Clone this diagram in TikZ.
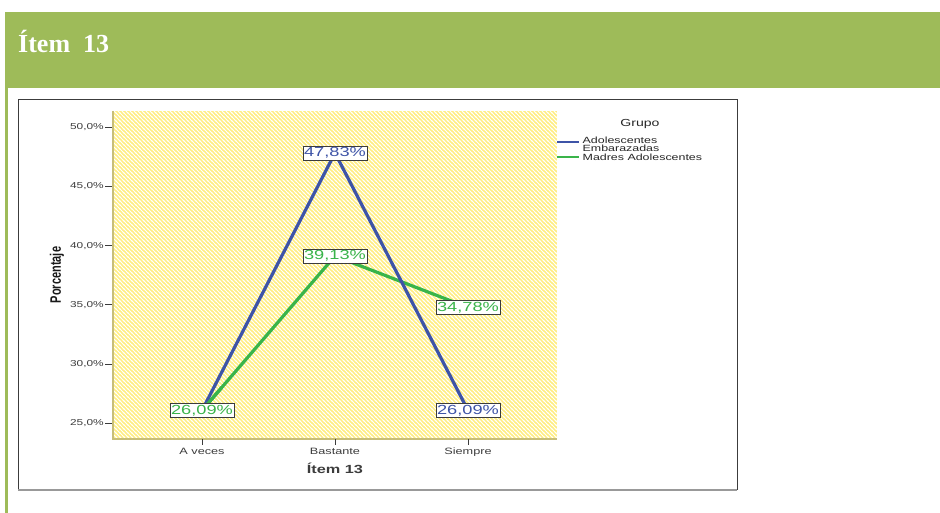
\documentclass[tikz,border=0pt]{standalone}
\usepackage{fontspec}
\setmainfont{Liberation Serif}
\newfontfamily\chartfont[FakeStretch=1.38]{Liberation Sans}
\newfontfamily\axisfont{Liberation Sans}
\usetikzlibrary{patterns.meta,calc}

\definecolor{banner}{RGB}{158,187,89}
\definecolor{serieA}{RGB}{62,84,167}
\definecolor{serieB}{RGB}{58,180,74}
\definecolor{plotyellow}{RGB}{255,238,128}
\definecolor{plotedge}{RGB}{200,190,120}
\definecolor{axisgray}{RGB}{60,60,60}

\tikzdeclarepattern{
  name=hatch,
  type=uncolored,
  bottom left={(-.1pt,-.1pt)},
  top right={(4.1pt,4.1pt)},
  tile size={(4pt,4pt)},
  code={
    \draw[line width=1pt] (-1pt,5pt) -- (5pt,-1pt);
    \draw[line width=1pt] (-1pt,1pt) -- (1pt,-1pt);
    \draw[line width=1pt] (3pt,5pt) -- (5pt,3pt);
  }
}

% value (in %) -> vertical position
\newcommand{\yv}[1]{423.3-(#1-25)*11.84}

\begin{document}
\begin{tikzpicture}[x=1pt,y=-1pt,
    tick/.style={draw=axisgray,line width=.9pt},
    ticklabel/.style={font=\chartfont\fontsize{8.6}{10}\selectfont,text=axisgray,anchor=east,inner sep=1pt},
    catlabel/.style={font=\chartfont\fontsize{9.2}{11}\selectfont,text=axisgray,anchor=base,inner sep=0pt},
    datalabel/.style={draw=axisgray,fill=white,line width=.6pt,inner xsep=1pt,inner ysep=1.6pt,font=\chartfont\fontsize{13.2}{14}\selectfont},
    serie/.style={line width=3.2pt,line join=round},
    legtext/.style={font=\chartfont\fontsize{9}{7.7}\selectfont,text=black!85,anchor=west,align=left,inner sep=0pt}]
    \useasboundingbox (0,0) rectangle (940,513);

    % banner
    \fill[banner] (5,12) rectangle (940,88);
    \fill[banner] (5,88) rectangle (8,513);
    \node[anchor=base west,text=white,font=\bfseries\fontsize{26}{30}\selectfont,inner sep=0pt] (titulo) at (18,53) {Ítem\ \ 13};

    % chart frame
    \draw[axisgray,line width=1pt] (18,490) -- (18,100) -- (737,100) -- (737,490);
    \draw[black!40,line width=1.5pt] (18,490) -- (737,490);

    % plot area
    \fill[plotyellow] (113,111) rectangle (557,439);
    \fill[pattern=hatch,pattern color=white] (113,111) rectangle (557,439);
    \draw[plotedge,line width=1.6pt] (113,111) -- (113,439) -- (557,439);

    % y axis
    \foreach \v in {25,30,...,50}{
            \draw[tick] (105,{\yv{\v}}) -- (112,{\yv{\v}});
            \node[ticklabel] (y\v) at (105,{\yv{\v}}) {\v,0\%};
        }
    \node[rotate=90,font=\axisfont\bfseries\fontsize{11}{13}\selectfont,text=black!90] (ytitulo) at (57,275) {\scalebox{1}[1.38]{Porcentaje}};

    % x axis
    \foreach \x/\t [count=\i] in {202/A veces,335/Bastante,468/Siempre}{
            \draw[tick] (\x,439) -- (\x,445);
            \node[catlabel] (c\i) at (\x,454) {\t};
        }
    \node[font=\chartfont\bfseries\fontsize{11.8}{13}\selectfont,text=axisgray] (xtitulo) at (335,468) {Ítem 13};

    % legend
    \node[font=\chartfont\fontsize{10.2}{12}\selectfont,text=black!85] (grupo) at (640,124) {Grupo};
    \draw[serieA,line width=2.2pt] (557,142.3) -- (579,142.3);
    \draw[serieB,line width=2.2pt] (557,157.3) -- (579,157.3);
    \node[legtext] (legA) at (582.5,144) {Adolescentes\\Embarazadas};
    \node[legtext] (legB) at (582.5,157.5) {Madres Adolescentes};

    % data
    \coordinate (a1) at (202,{\yv{26.09}});
    \coordinate (a2) at (335,{\yv{47.83}});
    \coordinate (a3) at (468,{\yv{26.09}});
    \coordinate (b1) at (202,{\yv{26.09}});
    \coordinate (b2) at (335,{\yv{39.13}});
    \coordinate (b3) at (468,{\yv{34.78}});

    \draw[serie,serieB] (b1) -- (b2) -- (b3);
    \draw[serie,serieA] (a1) -- (a2) -- (a3);
    \draw[serie,serieB] (b1) -- ($(b1)!.15!(b2)$);

    \node[datalabel,text=serieA] (la2) at (a2) {47,83\%};
    \node[datalabel,text=serieA] (la3) at (a3) {26,09\%};
    \node[datalabel,text=serieB] (lb1) at (b1) {26,09\%};
    \node[datalabel,text=serieB] (lb2) at (b2) {39,13\%};
    \node[datalabel,text=serieB] (lb3) at (b3) {34,78\%};
\end{tikzpicture}
\end{document}
